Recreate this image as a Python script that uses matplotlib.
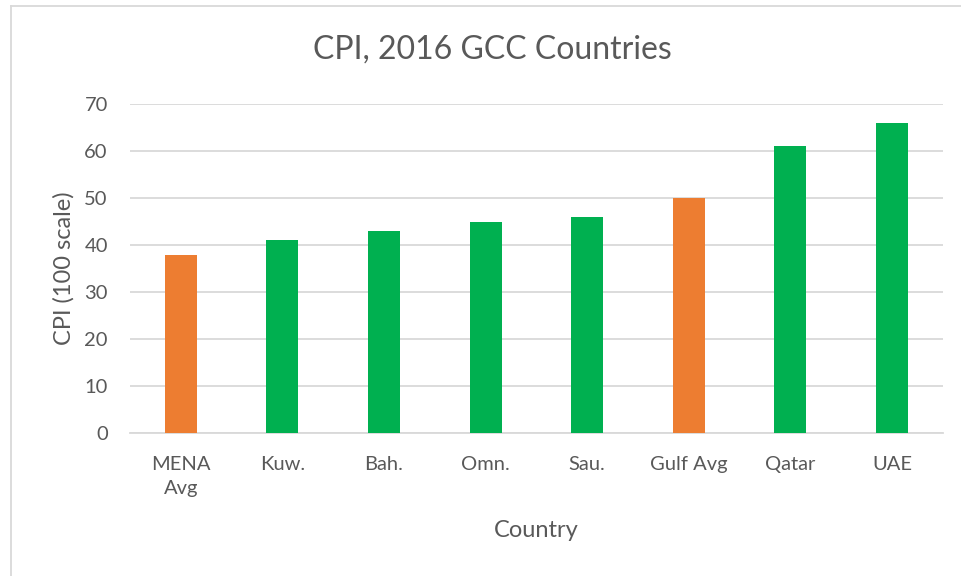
import matplotlib
matplotlib.use('Agg')
import matplotlib.pyplot as plt
from matplotlib.lines import Line2D

plt.rcParams['font.family'] = ['Lato', 'DejaVu Sans']

# Chart data
countries = ['MENA\nAvg', 'Kuw.', 'Bah.', 'Omn.', 'Sau.', 'Gulf Avg', 'Qatar', 'UAE']
cpi = [38, 41, 43, 45, 46, 50, 61, 66]
is_avg = [True, False, False, False, False, True, False, False]

orange = '#ED7D31'
green = '#00B050'
text_c = '#595959'
grid_c = '#D9D9D9'

fig = plt.figure(figsize=(9.61, 5.76), dpi=100)
ax = fig.add_axes([0.1353, 0.2477, 0.8457, 0.5717])

colors = [orange if a else green for a in is_avg]
ax.bar(range(len(cpi)), cpi, width=0.315, color=colors, zorder=3)

ax.set_xlim(-0.5, len(cpi) - 0.5)
ax.set_ylim(0, 70)
ax.set_yticks(range(0, 71, 10))
ax.set_xticks(range(len(cpi)))
ax.set_xticklabels(countries, fontsize=14.5, color=text_c, linespacing=1.5)
ax.tick_params(axis='y', labelsize=14.5, labelcolor=text_c, length=0, pad=16)
ax.tick_params(axis='x', length=0, pad=16)
ax.yaxis.grid(True, color=grid_c, linewidth=1.3, zorder=0)

for s in ['top', 'right', 'left']:
    ax.spines[s].set_visible(False)
ax.spines['bottom'].set_color(grid_c)
ax.spines['bottom'].set_linewidth(1.3)

ax.set_ylabel('CPI (100 scale)', fontsize=17, color=text_c, labelpad=7)
ax.set_xlabel('Country', fontsize=17, color=text_c, labelpad=17)

fig.text(492 / 961, 1 - 50 / 576, 'CPI, 2016 GCC Countries', ha='center', va='center',
         fontsize=23, color=text_c)

# chart-area border (top and left edges visible)
fig.add_artist(Line2D([11 / 961, 11 / 961], [0, 1 - 6 / 576], color='#D9D9D9', linewidth=1.3))
fig.add_artist(Line2D([11 / 961, 1], [1 - 6 / 576, 1 - 6 / 576], color='#D9D9D9', linewidth=1.3))

fig.savefig('out.png', dpi=100)
